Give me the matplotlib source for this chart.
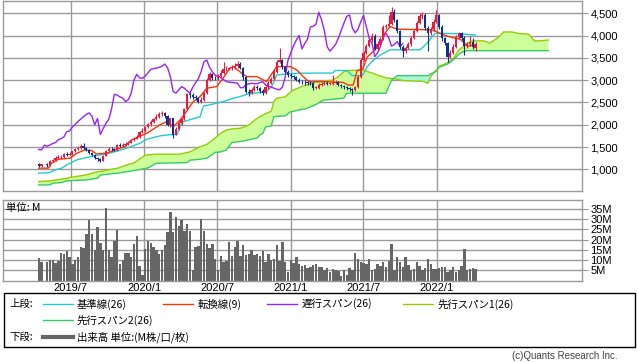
import numpy as np
import pandas as pd
import matplotlib
matplotlib.use('Agg')
import matplotlib.pyplot as plt
from matplotlib.lines import Line2D
from matplotlib.patches import Rectangle

plt.rcParams['font.family'] = ['Liberation Sans', 'Noto Sans CJK JP', 'DejaVu Sans']
JP = ['Noto Sans CJK JP', 'DejaVu Sans']
nan = float('nan')

# weekly bars, first one on 2019-04-12
start = pd.Timestamp('2019-04-12')

opens = [1120, 1080, nan, 1110, 1090, 1190, 1200, 1260, 1270, 1270,
         1340, 1330, 1350, 1400, 1460, 1480, 1520, 1480, 1440, 1360,
         1330, 1250, 1220, 1190, 1300, 1420, 1450, 1444, 1435, 1540,
         1515, 1545, 1578, 1600, 1665, 1690, 1725, 1845, 1860, 1945,
         2005, 2070, 2125, 2180, 2230, 2265, 2195, 1996, 2140, 1780,
         1910, 2030, 2120, 2350, 2680, 2665, 2625, 2597, 2520, 2560,
         2700, 3000, 3130, 3050, 3040, 3090, 3160, 3240, 3260, 3267,
         3285, 3310, 3360, 3280, 3080, 2742, 2710, 2780, 2855, 2820,
         2760, 2710, 2840, 2940, 3030, 3190, 3410, 3450, 3290, 3190,
         3110, 3090, 3060, 3010, 2967, 2955, 2948, 2940, 2932, 2830,
         2830, 2900, 2915, 2930, 2920, 2920, 2945, 2965, 2890, 2860,
         2842, 2820, 2795, 2785, 2840, 3060, 3440, 3610, 3770, 3900,
         4000, 3700, 3820, 3920, 4190, 4210, 4250, 4520, 4350, 4110,
         3750, 3650, 3720, 3800, 3940, 4110, 4280, 4430, 4460, 4170,
         4060, 4140, 4310, 4450, 4200, 3940, 3830, 3527, 3610, 3750,
         3975, 4050, 3950, 3760, 3800, 3864, 3720]
closes = [1080, 1110, nan, 1090, 1190, 1200, 1260, 1270, 1270, 1340,
          1330, 1350, 1400, 1460, 1480, 1520, 1480, 1440, 1360, 1330,
          1250, 1220, 1190, 1300, 1420, 1450, 1444, 1435, 1540, 1515,
          1545, 1578, 1600, 1665, 1690, 1725, 1845, 1860, 1945, 2005,
          2070, 2125, 2180, 2230, 2265, 2195, 1996, 2140, 1780, 1910,
          2030, 2120, 2350, 2680, 2665, 2625, 2597, 2520, 2560, 2700,
          3000, 3130, 3050, 3040, 3090, 3160, 3240, 3260, 3267, 3285,
          3310, 3360, 3280, 3080, 2742, 2710, 2780, 2855, 2820, 2760,
          2710, 2840, 2940, 3030, 3190, 3410, 3450, 3290, 3190, 3110,
          3090, 3060, 3010, 2967, 2955, 2948, 2940, 2932, 2830, 2830,
          2900, 2915, 2930, 2920, 2920, 2945, 2965, 2890, 2860, 2842,
          2820, 2795, 2785, 2840, 3060, 3440, 3610, 3770, 3900, 4000,
          3700, 3820, 3920, 4190, 4210, 4250, 4520, 4350, 4110, 3750,
          3650, 3720, 3800, 3940, 4110, 4280, 4430, 4460, 4170, 4060,
          4140, 4310, 4450, 4200, 3940, 3830, 3527, 3610, 3750, 3975,
          4050, 3950, 3760, 3800, 3864, 3750, 3820]
highs = [1150, 1130, nan, 1150, 1210, 1240, 1290, 1310, 1320, 1370,
         1380, 1380, 1420, 1480, 1520, 1560, 1590, 1510, 1450, 1390,
         1340, 1280, 1250, 1320, 1440, 1490, 1490, 1480, 1560, 1590,
         1580, 1610, 1640, 1690, 1730, 1760, 1870, 1920, 1980, 2040,
         2110, 2160, 2230, 2290, 2300, 2290, 2210, 2160, 2150, 1950,
         2080, 2160, 2380, 2720, 2740, 2700, 2660, 2620, 2620, 2740,
         3050, 3180, 3160, 3090, 3140, 3220, 3410, 3320, 3300, 3340,
         3380, 3420, 3400, 3300, 3100, 2800, 2830, 2900, 2890, 2850,
         2800, 2870, 2980, 3060, 3240, 3460, 3720, 3480, 3310, 3220,
         3150, 3120, 3090, 3040, 3010, 3000, 2990, 2980, 2950, 2870,
         2930, 2960, 2970, 2970, 2960, 3110, 3010, 2990, 2910, 2890,
         2870, 2850, 2830, 2870, 3110, 3490, 3660, 3820, 3940, 4060,
         4040, 3870, 3960, 4230, 4260, 4450, 4650, 4600, 4380, 4130,
         3780, 3760, 3850, 3980, 4150, 4330, 4500, 4520, 4500, 4210,
         4190, 4360, 4570, 4480, 4230, 3960, 3850, 3680, 3800, 4010,
         4080, 4070, 3990, 3860, 4000, 3950, 3860]
lows = [1050, 1060, nan, 1060, 1080, 1170, 1190, 1230, 1240, 1260,
        1300, 1310, 1330, 1390, 1440, 1460, 1460, 1420, 1340, 1300,
        1230, 1180, 1160, 1180, 1290, 1400, 1420, 1400, 1420, 1490,
        1490, 1520, 1550, 1580, 1640, 1670, 1710, 1820, 1840, 1920,
        1980, 2040, 2100, 2150, 2190, 2150, 1960, 1950, 1700, 1760,
        1890, 2000, 2100, 2330, 2600, 2580, 2550, 2480, 2480, 2540,
        2680, 2980, 3000, 3000, 3010, 3060, 3140, 3200, 3220, 3230,
        3250, 3280, 3240, 3000, 2700, 2650, 2680, 2750, 2780, 2720,
        2660, 2690, 2810, 2910, 3010, 3170, 3380, 3250, 3150, 3080,
        3050, 3020, 2970, 2930, 2910, 2900, 2900, 2880, 2780, 2790,
        2810, 2870, 2880, 2890, 2880, 2900, 2910, 2860, 2820, 2800,
        2770, 2750, 2660, 2760, 2820, 3040, 3420, 3580, 3740, 3850,
        3680, 3680, 3790, 3900, 4150, 4180, 4230, 4300, 4050, 3700,
        3520, 3610, 3690, 3770, 3920, 4080, 4250, 4380, 4120, 3650,
        4020, 4100, 4280, 4150, 3880, 3780, 3410, 3500, 3590, 3720,
        3930, 3890, 3560, 3720, 3760, 3700, 3650]
volume_m = [11.1, 8.9, 0, 8.9, 9.8, 10.1, 8.5, 9.3, 13.3, 12.7,
            14.6, 11.4, 8.1, 9.8, 11.4, 16.3, 15.8, 22.8, 29.6, 22.8,
            14.9, 26.0, 18.2, 14.9, 35.4, 14.9, 11.7, 19.5, 24.7, 8.0,
            10.1, 13.3, 13.3, 11.4, 17.9, 21.7, 7.0, 2.5, 15.4, 19.2,
            18.2, 16.3, 14.9, 13.0, 14.9, 17.5, 23.6, 33.3, 23.6, 31.2,
            26.8, 29.3, 24.4, 27.6, 24.1, 4.9, 16.3, 17.0, 30.1, 24.4,
            17.9, 16.0, 17.9, 10.6, 4.9, 12.2, 8.9, 9.3, 18.9, 12.2,
            16.3, 19.2, 12.2, 17.1, 12.5, 12.7, 14.8, 12.5, 13.0, 12.2,
            14.6, 8.9, 12.7, 10.1, 10.6, 17.1, 9.4, 18.9, 8.9, 4.0,
            9.8, 8.5, 11.4, 8.1, 7.3, 7.6, 6.0, 6.5, 7.6, 8.1,
            6.5, 6.8, 4.9, 6.0, 4.4, 5.7, 5.2, 4.6, 2.0, 4.9,
            2.9, 6.2, 4.9, 13.5, 10.6, 8.9, 8.5, 8.1, 10.6, 5.2,
            5.7, 8.1, 7.3, 8.9, 6.5, 9.3, 17.9, 5.2, 11.7, 8.9,
            6.8, 11.4, 7.8, 4.9, 5.7, 8.9, 7.3, 4.9, 6.0, 10.6,
            8.1, 5.7, 5.7, 6.0, 6.5, 6.8, 4.0, 4.9, 6.5, 4.4,
            5.2, 7.3, 15.4, 4.9, 5.7, 6.0, 5.8]

# ichimoku lines (week index, price)
tenkan_w = [0, 3.4, 4.6, 7, 11.2, 13.6, 16.5, 18.9, 20.7, 24.3, 27.3, 30.8, 33.2,
            38.6, 43.3, 45.7, 48.1, 50.5, 52.3, 55.2, 57.6, 60, 63.6, 65.4, 68.3,
            69.5, 72.5, 74.3, 77.9, 80.2, 81.4, 83.2, 85, 89.8, 92.1, 95.7, 96.9,
            100.5, 108.7, 110.5, 112.3, 113.7, 115.8, 117.3, 119.4, 122.6, 123.7,
            125.5, 127.3, 129, 138.7, 140.8, 143.3, 145.8, 148, 150.5, 153, 156]
tenkan_v = [1025, 1025, 1137, 1226, 1249, 1361, 1435, 1420, 1345, 1361, 1435, 1510, 1660,
            1809, 1996, 2070, 1958, 2108, 2258, 2518, 2630, 2818, 2855, 3004, 3267,
            3304, 3155, 3078, 3078, 3004, 2967, 3139, 3304, 3304, 3229, 3004, 2960,
            2967, 2950, 2890, 2890, 3210, 3260, 3520, 3640, 3880, 4060,
            4200, 4160, 4140, 4130, 4120, 4050, 3990, 3950, 3920, 3760, 3790]
kijun_w = [0, 4, 5.8, 8.2, 10, 13.6, 17.1, 19.5, 24.3, 27.3, 31.4, 36.2, 38.6, 43.3,
           46.3, 49.4, 51.2, 57.6, 58.8, 63.6, 65.9, 69.5, 71.9, 74.3, 76.6, 81.4,
           83.2, 85, 88.6, 93.3, 105.1, 105.8, 110.1, 111.9, 115.5, 117.3, 119,
           121.9, 125.5, 136.2, 138.7, 141.5, 150.5, 156]
kijun_v = [913, 926, 987, 1025, 1099, 1211, 1263, 1300, 1345, 1397, 1473, 1585, 1675, 1749,
           1772, 1780, 2060, 2180, 2415, 2482, 2518, 2594, 2630, 2684, 2706, 2742,
           2855, 3116, 3139, 3155, 3160, 3215, 3215, 3100, 3100, 3300, 3420,
           3560, 3680, 3680, 3830, 4050, 4040, 4010]
cloud_w = [0, 4, 5, 8, 10, 11, 14, 17, 20, 21, 22, 26, 28, 32, 34, 36, 38, 39, 42, 46,
           50, 53, 54, 57, 60, 62, 63, 65, 67, 69, 72, 75, 78, 79, 80, 81, 83, 84, 85,
           88, 90, 91, 93, 95, 97, 99, 101, 102, 105, 107, 109, 110, 112, 116, 119,
           122, 124, 126, 128, 130, 134, 137, 139, 140, 141, 142, 143, 146, 148, 150,
           151, 153, 155, 159, 161, 164, 166, 169, 171, 175, 177, 179, 182]
span1 = [725, 740, 750, 780, 800, 815, 845, 875, 930, 945, 950, 1000, 1020, 1110, 1140,
         1230, 1310, 1325, 1338, 1338, 1338, 1375, 1390, 1490, 1560, 1650, 1700, 1810,
         1880, 1905, 1920, 1990, 2145, 2180, 2215, 2250, 2300, 2520, 2594, 2625, 2740,
         2780, 2830, 2880, 2920, 2960, 2970, 2980, 3000, 3080, 3190, 3210, 3220, 3220,
         3160, 3090, 3050, 3040, 3020, 2990, 2980, 2975, 2930, 3080, 3170, 3220, 3310,
         3390, 3480, 3680, 3720, 3830, 3880, 3880, 3830, 3950, 4080, 4080, 4050, 4030,
         3880, 3880, 3900]
span2 = [650, 650, 690, 700, 740, 745, 752, 760, 790, 800, 870, 900, 912, 950, 975,
         995, 1020, 1030, 1135, 1140, 1145, 1150, 1205, 1220, 1249, 1330, 1380, 1390,
         1435, 1600, 1625, 1660, 1700, 1772, 1800, 1950, 1970, 2180, 2185, 2198, 2294,
         2300, 2332, 2350, 2400, 2450, 2530, 2556, 2570, 2580, 2600, 2706, 2706, 2706,
         2706, 2706, 2706, 3000, 3100, 3100, 3100, 3100, 3100, 3140, 3160, 3200, 3290,
         3360, 3450, 3580, 3620, 3660, 3660, 3660, 3660, 3660, 3660, 3660, 3660, 3660,
         3660, 3660, 3660]

tick_dates = ['2019-07-01', '2020-01-01', '2020-07-01', '2021-01-01', '2021-07-01', '2022-01-01']
tick_labels = ['2019/7', '2020/1', '2020/7', '2021/1', '2021/7', '2022/1']
price_ticks = [1000, 1500, 2000, 2500, 3000, 3500, 4000, 4500]
vol_ticks = [5, 10, 15, 20, 25, 30, 35]

o = np.array(opens); c = np.array(closes); h = np.array(highs); l = np.array(lows)
wk = np.arange(len(closes))
ok = ~np.isnan(c)
tick_pos = [(pd.Timestamp(d) - start).days / 7 for d in tick_dates]
xlim = (-12.64, 194.0)
grid_c = '#9a9a9a'

fig = plt.figure(figsize=(6.38, 3.62), dpi=100)
ax = fig.add_axes([0.0052, 0.4732, 0.907, 0.525])
axv = fig.add_axes([0.0052, 0.2251, 0.907, 0.2224])

# --- price panel
s1 = np.array(span1); s2 = np.array(span2)
ax.fill_between(cloud_w, s1, s2, where=s1 >= s2, interpolate=True, color='#ccff99', lw=0)
ax.fill_between(cloud_w, s1, s2, where=s1 < s2, interpolate=True, color='#a8f5d8', lw=0)
ax.plot(cloud_w, span1, color='#99cc00', lw=1)
ax.plot(cloud_w, span2, color='#33cc66', lw=1)
ax.plot(kijun_w, kijun_v, color='#22cccc', lw=1)
ax.plot(tenkan_w, tenkan_v, color='#ff3300', lw=1)
ax.plot(wk[26:] - 26, c[26:], color='#9922ff', lw=1)

cols = np.where(c >= o, '#f0163c', '#0a3296')
ax.vlines(wk[ok], l[ok], h[ok], colors=cols[ok], lw=0.8, zorder=3)
body = np.maximum(np.abs(c - o), 12)
ax.bar(wk[ok], body[ok], bottom=np.minimum(o, c)[ok], width=0.8, color=cols[ok], lw=0, zorder=3)

ax.set_xlim(xlim)
ax.set_ylim(520, 4782)
ax.set_xticks(tick_pos)
ax.set_yticks(price_ticks)
ax.set_yticklabels([f'{v:,}' for v in price_ticks])
ax.yaxis.tick_right()
ax.tick_params(axis='x', length=0, labelbottom=False)
ax.tick_params(axis='y', length=4, color=grid_c, labelsize=8, pad=2)
ax.grid(True, color=grid_c, lw=1)
ax.set_axisbelow(True)

# --- volume panel
axv.bar(wk, volume_m, width=0.85, color='#666666', lw=0)
axv.set_xlim(xlim)
axv.set_ylim(0, 39.3)
axv.set_xticks(tick_pos)
axv.set_xticklabels(tick_labels)
axv.set_yticks(vol_ticks)
axv.set_yticklabels([f'{v}M' for v in vol_ticks])
axv.yaxis.tick_right()
axv.tick_params(axis='x', length=0, labelsize=8, pad=2)
axv.tick_params(axis='y', length=4, color=grid_c, labelsize=8, pad=2)
axv.grid(True, color=grid_c, lw=1)
axv.set_axisbelow(True)
axv.text(0.005, 0.9, '単位: M', transform=axv.transAxes, fontsize=7.5,
         va='center', ha='left', family=JP)

for a in (ax, axv):
    for sp in a.spines.values():
        sp.set_color(grid_c)
        sp.set_linewidth(1)

# --- legend box
W, H = 638.0, 362.0
def fx(px): return px / W
def fy(py): return 1 - py / H

fig.add_artist(Rectangle((fx(4), fy(347)), fx(635) - fx(4), fy(293) - fy(347),
                         transform=fig.transFigure, fill=False, ec='black', lw=1))

def leg_line(x0, y, color, lw=1):
    fig.add_artist(Line2D([fx(x0), fx(x0 + 30)], [fy(y), fy(y)], color=color, lw=lw,
                          transform=fig.transFigure))

def leg_text(x, y, s):
    fig.text(fx(x), fy(y), s, fontsize=7.5, va='center', ha='left', family=JP)

leg_text(9, 304, '上段:')
leg_line(43, 304, '#22cccc'); leg_text(77, 304, '基準線(26)')
leg_line(163, 304, '#ff3300'); leg_text(198, 304, '転換線(9)')
leg_line(267, 304, '#9922ff'); leg_text(302, 304, '遅行スパン(26)')
leg_line(403, 304, '#99cc00'); leg_text(438, 304, '先行スパン1(26)')
leg_line(43, 320, '#33cc66'); leg_text(77, 320, '先行スパン2(26)')
leg_text(9, 337, '下段:')
leg_line(43, 337, '#666666', lw=3); leg_text(77, 337, '出来高 単位:(M株/口/枚)')

fig.text(fx(618), fy(356), '(c)Quants Research Inc.', fontsize=7, color='#444444',
         ha='right', va='center')

fig.savefig('out.png', dpi=100)
